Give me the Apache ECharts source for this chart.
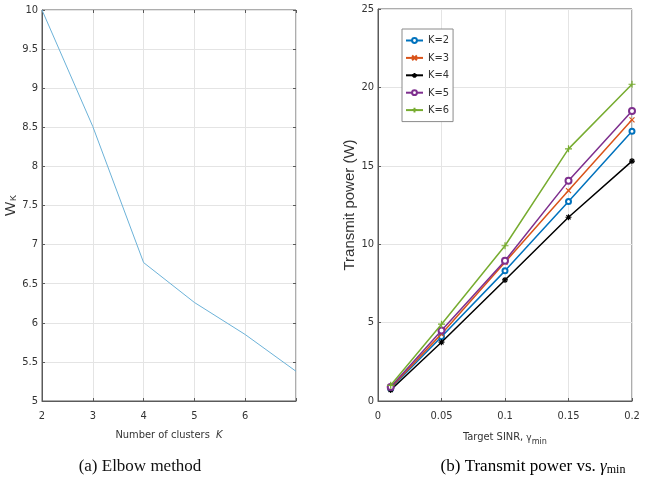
<!DOCTYPE html>
<html>
<head>
<meta charset="utf-8">
<script src="https://cdn.jsdelivr.net/npm/echarts@6/dist/echarts.min.js"></script>
<style>
html,body{margin:0;padding:0;background:#fff;}
#c{width:657px;height:498px;}
</style>
</head>
<body>
<div id="c"></div>
<script>
// ---- data ----
const elbowK = [2, 3, 4, 5, 6, 7];
const elbowW = [10, 8.51, 6.77, 6.26, 5.85, 5.38];

const sinr = [0.01, 0.05, 0.1, 0.15, 0.2];
const powerK2 = [0.8, 4.1, 8.3, 12.72, 17.2];
const powerK3 = [0.85, 4.28, 8.85, 13.42, 17.93];
const powerK4 = [0.7, 3.75, 7.72, 11.72, 15.3];
const powerK5 = [0.9, 4.49, 8.95, 14.04, 18.5];
const powerK6 = [1.0, 4.9, 9.9, 16.08, 20.2];
const seriesNames = ['K=2', 'K=3', 'K=4', 'K=5', 'K=6'];

const leftXTicks = [2, 3, 4, 5, 6];
// ---- styling ----
const NARROW = "'Liberation Sans Narrow','DejaVu Sans Condensed',sans-serif";
const SANS = "'Liberation Sans',Arial,sans-serif";
const SERIF = "'Liberation Serif','Times New Roman',serif";
const axisCol = '#5a5a5a';
const gridCol = '#e4e4e4';
const txtCol = '#333';

const colors = ['#0072BD', '#D95319', '#000000', '#7E2F8E', '#77AC30'];
const symX = 'path://M0,0L10,10M10,0L0,10';
const symStar = 'path://M5,0L5,10M0,5L10,5M1.5,1.5L8.5,8.5M8.5,1.5L1.5,8.5';
const symPlus = 'path://M5,0L5,10M0,5L10,5';
const symbols = ['emptyCircle', symX, symStar, 'emptyCircle', symPlus];
const symSizes = [5, 5, 6, 6, 7];

const powerData = [powerK2, powerK3, powerK4, powerK5, powerK6];

function mkAxisCommon(extra) {
  return Object.assign({
    axisLine: {show: true, onZero: false, lineStyle: {color: axisCol, width: 1}},
    axisTick: {show: true, inside: true, length: 3, lineStyle: {color: axisCol}},
    axisLabel: {color: txtCol, fontFamily: NARROW, fontSize: 11, margin: 5},
    splitLine: {show: true, lineStyle: {color: gridCol, width: 1}}
  }, extra);
}

const chart = echarts.init(document.getElementById('c'), null, {renderer: 'canvas'});

const series = [];
series.push({
  type: 'line', xAxisIndex: 0, yAxisIndex: 0,
  data: elbowK.map((k, i) => [k, elbowW[i]]),
  showSymbol: false, symbol: 'none',
  lineStyle: {color: '#6cb2d8', width: 1},
  silent: true, animation: false
});
powerData.forEach((arr, j) => {
  series.push({
    type: 'line', name: seriesNames[j], xAxisIndex: 2, yAxisIndex: 2,
    data: sinr.map((x, i) => [x, arr[i]]),
    symbol: symbols[j], symbolSize: symSizes[j], showSymbol: true,
    lineStyle: {color: colors[j], width: 1.5},
    itemStyle: {color: colors[j], borderColor: colors[j], borderWidth: 1.2},
    animation: false, z: 3 + j
  });
});

const option = {
  backgroundColor: '#fff',
  animation: false,
  grid: [
    {left: 42, right: 361, top: 10, bottom: 97, show: true, borderColor: axisCol, borderWidth: 1, containLabel: false},
    {left: 378, right: 25, top: 9, bottom: 97, show: true, borderColor: axisCol, borderWidth: 1, containLabel: false}
  ],
  xAxis: [
    mkAxisCommon({
      type: 'value', gridIndex: 0, min: 2, max: 7, interval: 1,
      name: 'Number of clusters  {k|K}', nameLocation: 'middle', nameGap: 29,
      nameTextStyle: {color: txtCol, fontFamily: NARROW, fontSize: 11,
        rich: {k: {fontFamily: NARROW, fontSize: 11, fontStyle: 'italic', color: txtCol}}},
      axisLabel: {color: txtCol, fontFamily: NARROW, fontSize: 11, margin: 10,
        formatter: v => (leftXTicks.indexOf(v) >= 0 ? String(v) : '')}
    }),
    {
      type: 'value', gridIndex: 0, min: 2, max: 7, interval: 1, position: 'top',
      axisLine: {show: false}, axisLabel: {show: false}, splitLine: {show: false},
      axisTick: {show: true, inside: true, length: 3, lineStyle: {color: axisCol}}
    },
    mkAxisCommon({
      type: 'value', gridIndex: 1, min: 0, max: 0.2, interval: 0.05,
      name: '{a|Target SINR, }{g|γ}{s|min}', nameLocation: 'middle', nameGap: 28,
      nameTextStyle: {color: txtCol, fontFamily: NARROW, fontSize: 11,
        rich: {
          a: {fontFamily: NARROW, fontSize: 11, color: txtCol},
          g: {fontFamily: NARROW, fontSize: 10, color: txtCol, padding: [2, 0, 0, 0]},
          s: {fontFamily: NARROW, fontSize: 9, color: txtCol, verticalAlign: 'bottom', padding: [8, 0, 0, 0]}
        }},
      axisLabel: {color: txtCol, fontFamily: NARROW, fontSize: 11, margin: 10}
    })
  ],
  yAxis: [
    mkAxisCommon({
      type: 'value', gridIndex: 0, min: 5, max: 10, interval: 0.5,
      name: '{w|W}{k|K}', nameLocation: 'middle', nameGap: 16, nameRotate: 90,
      nameTextStyle: {color: txtCol, fontFamily: SANS, fontSize: 15,
        rich: {
          w: {fontFamily: SANS, fontSize: 15, color: txtCol},
          k: {fontFamily: SANS, fontSize: 9, color: txtCol, padding: [7, 0, 0, 1]}
        }},
      axisLabel: {color: txtCol, fontFamily: NARROW, fontSize: 11, margin: 4}
    }),
    {
      type: 'value', gridIndex: 0, min: 5, max: 10, interval: 0.5, position: 'right',
      axisLine: {show: false}, axisLabel: {show: false}, splitLine: {show: false},
      axisTick: {show: true, inside: true, length: 3, lineStyle: {color: axisCol}}
    },
    mkAxisCommon({
      type: 'value', gridIndex: 1, min: 0, max: 25, interval: 5,
      name: 'Transmit power (W)', nameLocation: 'middle', nameGap: 16, nameRotate: 90,
      nameTextStyle: {color: txtCol, fontFamily: SANS, fontSize: 15},
      axisLabel: {color: txtCol, fontFamily: NARROW, fontSize: 11, margin: 4}
    })
  ],
  legend: {
    data: seriesNames,
    orient: 'vertical',
    left: 402, top: 29,
    padding: [6, 4, 6, 3],
    itemGap: 6.4, itemWidth: 17, itemHeight: 6,
    backgroundColor: '#fff',
    borderColor: '#8a8a8a', borderWidth: 1, borderRadius: 0,
    textStyle: {color: txtCol, fontFamily: NARROW, fontSize: 11, lineHeight: 10},
    itemTextGap: 2,
    selectedMode: false
  },
  graphic: [
    {
      type: 'text', x: 140, y: 467,
      style: {text: '(a) Elbow method', font: "17px " + SERIF, fill: '#111', align: 'center', verticalAlign: 'middle'}
    },
    {
      type: 'text', x: 533, y: 467,
      style: {
        text: '{t|(b) Transmit power vs. }{g|γ}{s|min}',
        align: 'center', verticalAlign: 'middle',
        rich: {
          t: {fontFamily: SERIF, fontSize: 17, color: '#111'},
          g: {fontFamily: SERIF, fontSize: 17, fontStyle: 'italic', color: '#111'},
          s: {fontFamily: SERIF, fontSize: 12, color: '#111', padding: [6, 0, 0, 0]}
        }
      }
    }
  ],
  series: series
};

chart.setOption(option);
</script>
</body>
</html>
